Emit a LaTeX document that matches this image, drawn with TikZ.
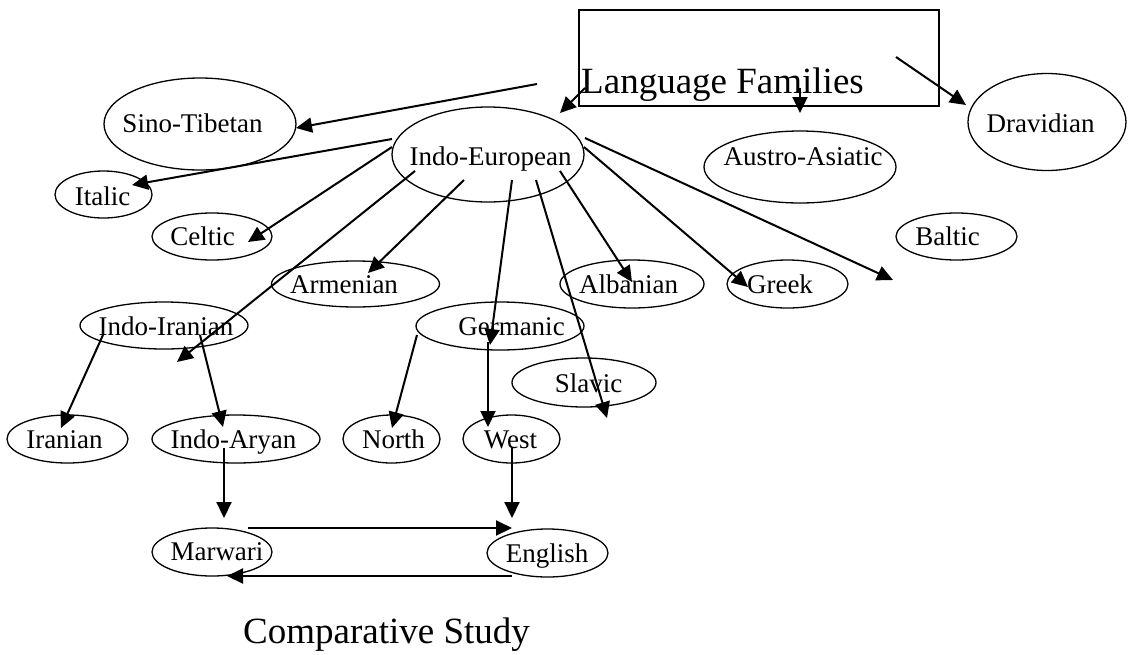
\documentclass[tikz,border=0pt]{standalone}
\usepackage{fontspec}
\setmainfont{Liberation Serif}
\usetikzlibrary{shapes.geometric,arrows.meta}
\tikzset{
  fam/.style={draw, ellipse, line width=1.3pt, inner sep=0pt},
  lbl/.style={anchor=base, inner sep=0pt, font=\fontsize{27}{30}\selectfont},
  big/.style={anchor=base, inner sep=0pt, font=\fontsize{37}{42}\selectfont},
  link/.style={line width=2pt, -{Triangle[length=16pt,width=15pt]}},
}
% \famnode{name}{centre}{width}{height}{text position}{text}
\newcommand{\famnode}[6]{%
  \node[fam, minimum width=#3pt, minimum height=#4pt] (#1) at (#2) {};
  \node[lbl] (#1-text) at (#5) {#6};
}
% \famlink{name}{from}{to}
\newcommand{\famlink}[3]{%
  \coordinate (#1-from) at (#2);
  \coordinate (#1-to) at (#3);
  \draw[link] (#1-from) -- (#1-to);
}
\begin{document}
\begin{tikzpicture}[x=1pt,y=-1pt]
\useasboundingbox (0,0) rectangle (1128,654);

% title box
\node[draw, line width=1.5pt, minimum width=360pt, minimum height=96pt,
      inner sep=0pt, anchor=north west] (box) at (578,9) {};
\node[big] (title) at (722.5,93) {Language Families};

% families and branches
\famnode{dravidian}{1047,122}{158}{97}{1040.5,132}{Dravidian}
\famnode{sino}{200,124}{192}{92}{192.5,132}{Sino-Tibetan}
\famnode{ie}{488,154.5}{192}{95}{490.7,165}{Indo-European}
\famnode{austro}{800,167}{192}{72}{803,165}{Austro-Asiatic}
\famnode{italic}{103.5,194.5}{97}{47}{102.5,205}{Italic}
\famnode{celtic}{212,236.5}{120}{47}{202.5,245}{Celtic}
\famnode{baltic}{956.5,236.5}{121}{47}{947.5,245}{Baltic}
\famnode{armenian}{355.5,284}{168}{46}{344,293}{Armenian}
\famnode{albanian}{632,284}{144}{48}{628.5,293}{Albanian}
\famnode{greek}{787.5,284}{121}{48}{780,293}{Greek}
\famnode{indoiranian}{164,325.5}{168}{47}{166,335}{Indo-Iranian}
\famnode{germanic}{500,326}{168}{48}{511.5,335}{Germanic}
\famnode{slavic}{584,382.5}{144}{49}{588.5,392}{Slavic}
\famnode{iranian}{67.5,439}{121}{48}{64.5,448}{Iranian}
\famnode{indoaryan}{236,439}{168}{48}{233.5,448}{Indo-Aryan}
\famnode{north}{391.5,439}{97}{48}{393.5,448}{North}
\famnode{west}{511.5,439}{97}{48}{510.5,448}{West}
\famnode{marwari}{212,552}{120}{48}{217,560}{Marwari}
\famnode{english}{547.5,553}{121}{48}{547,562}{English}

\node[big] (study) at (386.5,643) {Comparative Study};

% connectors
\famlink{box-ie}{585,88}{560,113}
\famlink{box-austro}{800,88}{800,113}
\famlink{box-dravidian}{896,57}{966,105}
\famlink{box-sino}{537,84}{296,128}
\famlink{ie-italic}{392,139}{132,185}
\famlink{ie-celtic}{392,147}{248,242}
\famlink{ie-indoiranian}{415,171}{177,362}
\famlink{ie-armenian}{464,180}{368,273}
\famlink{ie-germanic}{512,180}{490,345}
\famlink{ie-slavic}{536,180}{607,418}
\famlink{ie-albanian}{560,171}{632,282}
\famlink{ie-greek}{584,147}{748,287}
\famlink{ie-baltic}{585,138}{893,280}
\famlink{germanic-west}{488,342}{488,427}
\famlink{germanic-north}{417,335}{392,428}
\famlink{indoiranian-iranian}{103,335}{61,428}
\famlink{indoiranian-indoaryan}{200,335}{223,427}
\famlink{indoaryan-marwari}{224,448}{224,518}
\famlink{west-english}{512,448}{512,518}
\famlink{marwari-english}{248,528}{512,528}
\famlink{english-marwari}{512,576}{227,576}
\end{tikzpicture}
\end{document}
